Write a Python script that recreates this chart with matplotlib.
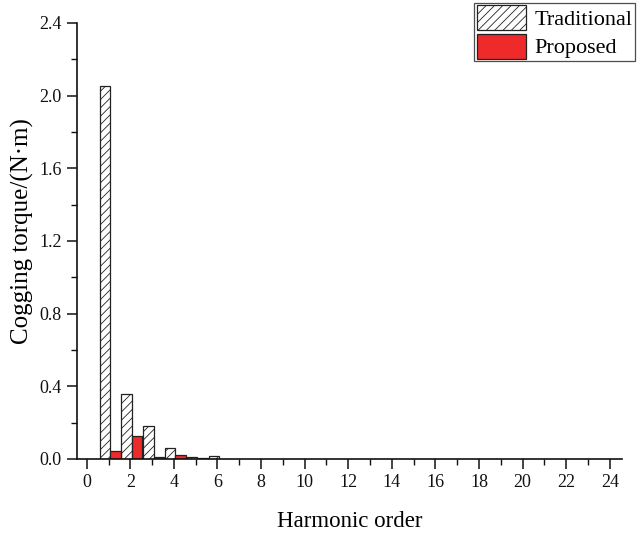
import matplotlib
matplotlib.use("Agg")
import matplotlib.pyplot as plt
from matplotlib.ticker import MultipleLocator
import numpy as np

plt.rcParams['font.family'] = ['Liberation Serif', 'DejaVu Serif']
plt.rcParams['hatch.linewidth'] = 0.6

harmonics = [1, 2, 3, 4, 5, 6]
traditional = [2.055, 0.357, 0.181, 0.059, 0.009, 0.015]
proposed = [0.044, 0.128, 0.013, 0.020, 0.003, 0.002]

x_ticks = list(range(0, 25, 2))
y_ticks = [0.0, 0.4, 0.8, 1.2, 1.6, 2.0, 2.4]

fig = plt.figure(figsize=(6.41, 5.33), dpi=100)
ax = fig.add_axes([0.120, 0.139, 0.850, 0.818])

w = 0.48
h = np.array(harmonics, dtype=float)
ax.bar(h - 0.17, traditional, width=w, facecolor='white', edgecolor='#222222',
       linewidth=0.9, hatch='////', label='Traditional', zorder=2)
ax.bar(h + 0.31, proposed, width=w, facecolor='#EE2A2A', edgecolor='#222222',
       linewidth=0.9, label='Proposed', zorder=2)

ax.set_xlim(-0.45, 24.55)
ax.set_ylim(0, 2.4)
ax.set_xticks(x_ticks)
ax.set_yticks(y_ticks)
ax.set_yticklabels([f"{v:.1f}" for v in y_ticks])
ax.xaxis.set_minor_locator(MultipleLocator(1))
ax.yaxis.set_minor_locator(MultipleLocator(0.2))

for s in ('top', 'right'):
    ax.spines[s].set_visible(False)
for s in ('left', 'bottom'):
    ax.spines[s].set_linewidth(1.2)
    ax.spines[s].set_color('#111111')

ax.tick_params(which='major', direction='out', length=7, width=1.1,
               labelsize=13, colors='#111111', pad=4)
ax.tick_params(which='minor', direction='out', length=4, width=1.0, colors='#111111')

ax.set_xlabel('Harmonic order', fontsize=16.5, labelpad=14)
ax.set_ylabel('Cogging torque/(N·m)', fontsize=18)
ax.yaxis.set_label_coords(-0.079, 0.523)

leg = ax.legend(loc='upper right', bbox_to_anchor=(0.991, 0.995),
                bbox_transform=fig.transFigure, fontsize=16,
                frameon=True, fancybox=False, edgecolor='#222222',
                handlelength=2.2, handleheight=1.35, handletextpad=0.4,
                borderpad=0.12, labelspacing=0.15, borderaxespad=0)
leg.get_frame().set_linewidth(0.9)

fig.savefig('out.png', dpi=100)
